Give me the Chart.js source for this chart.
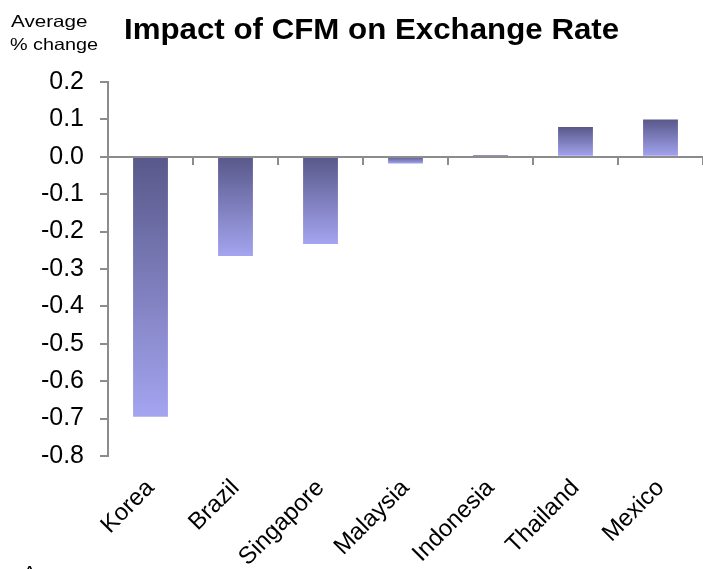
<!DOCTYPE html>
<html>
<head>
<meta charset="utf-8">
<script src="https://cdn.jsdelivr.net/npm/chart.js@4"></script>
<style>
  html, body { margin: 0; padding: 0; background: #fff; }
  #cfmChart { display: block; }
</style>
</head>
<body>
<canvas id="cfmChart" width="703" height="569"></canvas>
<script>
const countries = ['Korea', 'Brazil', 'Singapore', 'Malaysia', 'Indonesia', 'Thailand', 'Mexico'];
const avgChange = [-0.695, -0.265, -0.233, -0.018, 0.005, 0.08, 0.1];

const axisGray = '#8c8c8c';
const barTop = 'rgb(88, 88, 138)';
const barBottom = 'rgb(164, 164, 240)';
const fontFamily = '"Liberation Sans", Arial, sans-serif';

// gradient runs from the top of each bar to its bottom, whichever way it points
function barGradient(context) {
  const chart = context.chart;
  const yScale = chart.scales.y;
  if (!chart.chartArea || !yScale || context.dataIndex === undefined) return barBottom;
  const v = context.raw;
  const yVal = yScale.getPixelForValue(v);
  const yZero = yScale.getPixelForValue(0);
  const top = Math.min(yVal, yZero);
  const bottom = Math.max(yVal, yZero);
  if (bottom - top < 1) return barBottom;
  const g = chart.ctx.createLinearGradient(0, top, 0, bottom);
  g.addColorStop(0, barTop);
  g.addColorStop(1, barBottom);
  return g;
}

// text drawn a little wider than the font's natural width
function wideText(ctx, text, x, y, sx) {
  ctx.save();
  ctx.translate(x, y);
  ctx.scale(sx, 1);
  ctx.fillText(text, 0, 0);
  ctx.restore();
}

// zero line with category tick marks, plus the heading texts
const extras = {
  id: 'extras',
  afterDatasetsDraw(chart) {
    const { ctx, chartArea, scales } = chart;
    const y0 = Math.round(scales.y.getPixelForValue(0));
    const step = (chartArea.right - chartArea.left) / countries.length;
    ctx.save();
    ctx.strokeStyle = axisGray;
    ctx.lineWidth = 2;
    ctx.beginPath();
    ctx.moveTo(chartArea.left, y0);
    ctx.lineTo(chartArea.right, y0);
    for (let i = 0; i <= countries.length; i++) {
      const x = Math.round(chartArea.left + step * i);
      ctx.moveTo(x, y0);
      ctx.lineTo(x, y0 + 8);
    }
    ctx.stroke();
    ctx.restore();
  },
  afterDraw(chart) {
    const ctx = chart.ctx;
    ctx.save();
    ctx.fillStyle = '#000';
    ctx.textBaseline = 'alphabetic';
    ctx.textAlign = 'left';
    ctx.font = 'bold 29.5px ' + fontFamily;
    wideText(ctx, 'Impact of CFM on Exchange Rate', 124, 39, 1.06);
    ctx.font = '16.5px ' + fontFamily;
    wideText(ctx, 'Average', 11, 27, 1.25);
    wideText(ctx, '% change', 10, 50, 1.2);
    wideText(ctx, 'A', 23, 578, 1.2);
    ctx.restore();
  }
};

new Chart(document.getElementById('cfmChart').getContext('2d'), {
  type: 'bar',
  data: {
    labels: countries,
    datasets: [{
      label: 'Average % change',
      data: avgChange,
      backgroundColor: barGradient,
      borderWidth: 0,
      categoryPercentage: 1,
      barPercentage: 0.41
    }]
  },
  options: {
    responsive: false,
    animation: false,
    devicePixelRatio: 1,
    layout: { padding: { top: 82, right: 0, left: 0, bottom: 0 } },
    plugins: {
      legend: { display: false },
      tooltip: { enabled: false }
    },
    scales: {
      x: {
        grid: { display: false },
        border: { display: false },
        afterFit: scale => { scale.height = 113; },
        ticks: {
          color: '#000',
          font: { family: fontFamily, size: 24 },
          minRotation: 45,
          maxRotation: 45,
          padding: 10
        }
      },
      y: {
        min: -0.8,
        max: 0.2,
        afterFit: scale => { scale.width = 108; },
        border: { display: true, color: axisGray, width: 2 },
        grid: { drawOnChartArea: false, color: axisGray, lineWidth: 2, tickLength: 8 },
        ticks: {
          stepSize: 0.1,
          color: '#000',
          padding: 16,
          font: { family: fontFamily, size: 25 },
          callback: v => (Math.abs(v) < 1e-9 ? 0 : v).toFixed(1)
        }
      }
    }
  },
  plugins: [extras]
});
</script>
</body>
</html>
